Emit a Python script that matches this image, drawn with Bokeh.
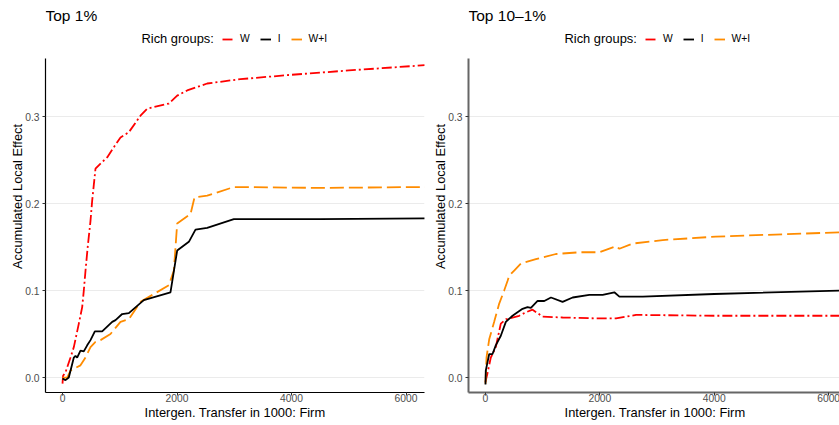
from bokeh.plotting import figure
from bokeh.layouts import row
from bokeh.models import Range1d, FixedTicker, NumeralTickFormatter, Legend, LegendItem, Label
from bokeh.embed import file_html
from bokeh.resources import INLINE

FONT = "Liberation Sans"
RED = "#FF0000"
BLACK = "#000000"
ORANGE = "#FF8C00"

titles = ["Top 1%", "Top 10\u20131%"]
legend_title = "Rich groups:"
group_labels = ["W", "I", "W+I"]
x_ticks = [0, 2000, 4000, 6000]
y_ticks = [0.0, 0.1, 0.2, 0.3]
x_label = "Intergen. Transfer in 1000: Firm"
y_label = "Accumulated Local Effect"

# ---- Top 1% ----
top1_w_x = [0, 10, 52, 140, 198, 285, 344, 372, 402, 440, 489, 518, 576, 664, 780, 868, 1013, 1159, 1362, 1479, 1857, 2003, 2178, 2527, 3109, 4000, 5000, 6330]
top1_w_y = [-0.007, 0.002, 0.006, 0.023, 0.035, 0.062, 0.081, 0.100, 0.123, 0.150, 0.180, 0.203, 0.240, 0.246, 0.253, 0.262, 0.276, 0.282, 0.301, 0.309, 0.315, 0.324, 0.330, 0.338, 0.343, 0.348, 0.353, 0.359]

top1_i_x = [0, 52, 110, 198, 227, 256, 314, 372, 431, 489, 565, 693, 868, 926, 1042, 1159, 1420, 1886, 2003, 2207, 2323, 2527, 2993, 4500, 6330]
top1_i_y = [-0.001, -0.003, 0.000, 0.023, 0.025, 0.023, 0.031, 0.030, 0.037, 0.043, 0.053, 0.053, 0.064, 0.066, 0.073, 0.074, 0.089, 0.098, 0.146, 0.156, 0.170, 0.172, 0.182, 0.182, 0.183]

top1_wi_x = [0, 82, 140, 198, 314, 402, 489, 576, 664, 838, 1013, 1159, 1362, 1595, 1857, 1945, 2003, 2236, 2306, 2527, 2993, 4500, 6330]
top1_wi_y = [0.000, 0.000, 0.008, 0.010, 0.014, 0.023, 0.035, 0.041, 0.043, 0.050, 0.064, 0.067, 0.087, 0.096, 0.106, 0.123, 0.177, 0.188, 0.207, 0.209, 0.219, 0.218, 0.219]

# ---- Top 10-1% ----
top10_w_x = [0, 35, 93, 180, 268, 356, 590, 706, 823, 998, 1348, 1932, 2283, 2633, 4000, 6235]
top10_w_y = [-0.005, 0.005, 0.023, 0.035, 0.062, 0.067, 0.071, 0.075, 0.078, 0.070, 0.069, 0.068, 0.068, 0.072, 0.071, 0.071]

top10_i_x = [0, 5, 65, 123, 180, 268, 356, 473, 560, 648, 735, 794, 911, 1028, 1145, 1348, 1524, 1816, 2049, 2253, 2341, 2750, 4000, 6235]
top10_i_y = [-0.008, 0.008, 0.027, 0.027, 0.037, 0.048, 0.064, 0.071, 0.075, 0.079, 0.081, 0.080, 0.088, 0.088, 0.092, 0.087, 0.092, 0.095, 0.095, 0.098, 0.093, 0.093, 0.096, 0.100]

top10_wi_x = [0, 18, 65, 152, 240, 327, 385, 415, 502, 618, 881, 1232, 1641, 1991, 2283, 2341, 2574, 3100, 4028, 6235]
top10_wi_y = [-0.007, 0.023, 0.044, 0.064, 0.085, 0.100, 0.111, 0.117, 0.123, 0.131, 0.136, 0.142, 0.144, 0.144, 0.151, 0.148, 0.154, 0.158, 0.162, 0.167]

x_min = -297
y_min, y_max = -0.0172, 0.3667
y_top = 0.4334          # frame top, leaves room for the panel header
FRAME_H = 392


def make_panel(title, wx, wy, ix, iy, bx, by, frame_w, x_end, mbl, mbr, axis_color, axis_width):
    p = figure(frame_width=frame_w, frame_height=FRAME_H, title=None,
               output_backend="svg", toolbar_location=None,
               x_range=Range1d(x_min, x_end), y_range=Range1d(y_min, y_top),
               min_border_left=mbl, min_border_right=mbr, min_border_top=0, min_border_bottom=0,
               background_fill_color="white", border_fill_color="white")
    p.outline_line_color = None

    p.xgrid.visible = False
    p.ygrid.ticker = FixedTicker(ticks=y_ticks)
    p.ygrid.grid_line_color = "#EBEBEB"
    p.ygrid.grid_line_width = 1

    for ax in (p.xaxis[0], p.yaxis[0]):
        ax.axis_line_color = axis_color
        ax.axis_line_width = axis_width
        ax.major_tick_line_color = "#333333"
        ax.major_tick_out = 3
        ax.major_tick_in = 0
        ax.minor_tick_line_color = None
        ax.major_label_text_font = FONT
        ax.major_label_text_font_size = "10.3px"
        ax.major_label_text_color = "#4D4D4D"
        ax.axis_label_text_font = FONT
        ax.axis_label_text_font_size = "12.9px"
        ax.axis_label_text_font_style = "normal"
        ax.axis_label_text_color = "#000000"
    p.xaxis.ticker = FixedTicker(ticks=x_ticks)
    p.yaxis.ticker = FixedTicker(ticks=y_ticks)
    p.yaxis.bounds = (y_min, y_max)
    p.yaxis.formatter = NumeralTickFormatter(format="0.0")
    p.xaxis.axis_label = x_label
    p.yaxis.axis_label = y_label
    p.xaxis.major_label_standoff = -2
    p.xaxis.axis_label_standoff = 0
    p.yaxis.major_label_standoff = 3
    p.yaxis.axis_label_standoff = -3

    r_w = p.line(wx, wy, line_color=RED, line_width=1.8, line_dash="10 3 2 3")
    r_wi = p.line(bx, by, line_color=ORANGE, line_width=1.8, line_dash="14 5")
    r_i = p.line(ix, iy, line_color=BLACK, line_width=1.8)

    p.add_layout(Label(x=x_min, y=y_top, y_offset=-15, text=title, text_font=FONT,
                       text_font_size="15.5px", text_color="#000000",
                       text_baseline="middle", text_align="left"))
    p.add_layout(Label(x=x_min, y=y_top, x_offset=96, y_offset=-38.3, text=legend_title,
                       text_font=FONT, text_font_size="12.9px", text_color="#000000",
                       text_baseline="middle", text_align="left"))

    legend = Legend(items=[LegendItem(label=group_labels[0], renderers=[r_w]),
                           LegendItem(label=group_labels[1], renderers=[r_i]),
                           LegendItem(label=group_labels[2], renderers=[r_wi])],
                    orientation="horizontal", location=(177, FRAME_H - 32.7 - 12),
                    glyph_width=11, glyph_height=12, label_standoff=7, spacing=10,
                    label_width=0, label_height=12, padding=0, margin=0,
                    label_text_font=FONT, label_text_font_size="10.3px", label_text_color="#000000",
                    background_fill_alpha=0, border_line_alpha=0)
    p.add_layout(legend)
    return p


p1 = make_panel(titles[0], top1_w_x, top1_w_y, top1_i_x, top1_i_y, top1_wi_x, top1_wi_y,
                379, 6323, 45, 6, "#000000", 1.2)
p2 = make_panel(titles[1], top10_w_x, top10_w_y, top10_i_x, top10_i_y, top10_wi_x, top10_wi_y,
                373, 6225, 36, 0, "#666666", 2)

layout = row(p1, p2)
open("out.html", "w").write(file_html(layout, INLINE))
